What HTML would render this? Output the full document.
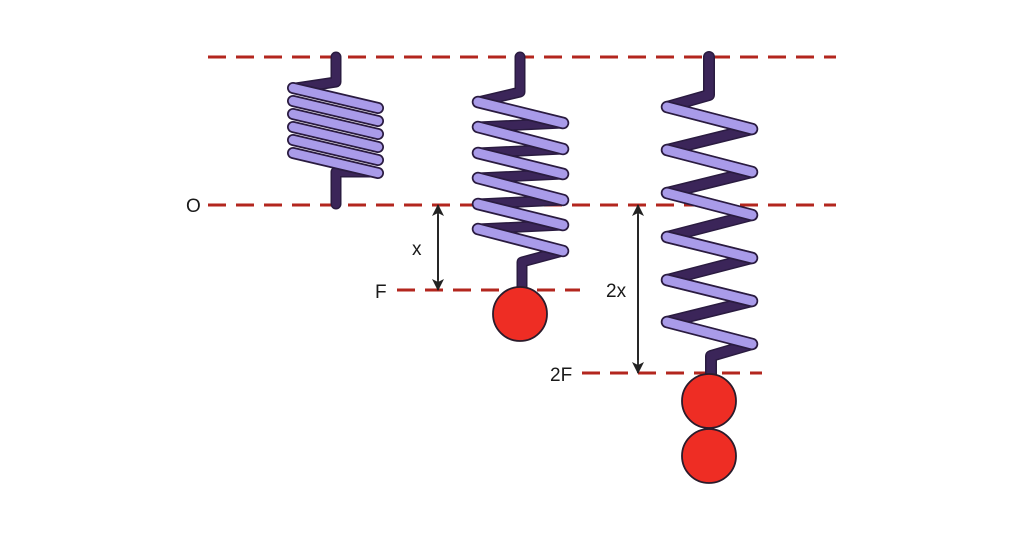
<!DOCTYPE html>
<html><head><meta charset="utf-8"><style>
html,body{margin:0;padding:0;background:#fff;}
svg{display:block}
text{font-family:"Liberation Sans",sans-serif;font-size:19px;fill:#1a1a1a}
</style></head><body>
<svg width="1024" height="538" viewBox="0 0 1024 538" xmlns="http://www.w3.org/2000/svg">
<defs>
<marker id="ah" markerWidth="12" markerHeight="12" refX="11" refY="6" orient="auto" markerUnits="userSpaceOnUse">
<path d="M0,0 L12,6 L0,12 L3,6 Z" fill="#222"/></marker>
</defs>
<g stroke="#b3261e" stroke-width="3" stroke-dasharray="18,10" fill="none">
<line x1="208" y1="57" x2="836" y2="57"/>
<line x1="208" y1="205" x2="836" y2="205"/>
<line x1="397" y1="290" x2="580" y2="290"/>
<line x1="582" y1="373" x2="762" y2="373"/>
</g>
<g stroke="#222" stroke-width="1.8">
<line x1="438" y1="215" x2="438" y2="290" marker-end="url(#ah)"/>
<line x1="438" y1="280" x2="438" y2="205" marker-end="url(#ah)"/>
<line x1="638" y1="215" x2="638" y2="373" marker-end="url(#ah)"/>
<line x1="638" y1="360" x2="638" y2="205" marker-end="url(#ah)"/>
</g>
<text x="186" y="212">O</text>
<text x="412" y="255">x</text>
<text x="375" y="298">F</text>
<text x="606" y="297">2x</text>
<text x="550" y="381">2F</text>

<g fill="none" stroke-linecap="round" stroke-linejoin="round">
<!-- spring 1 -->
<polyline stroke="#2a1b40" stroke-width="11" points="336,57 336,82 296,88"/>
<polyline stroke="#3b2559" stroke-width="8" points="336,57 336,82 296,88"/>
<polyline stroke="#2a1b40" stroke-width="11" points="374,172 336,172 336,204"/>
<polyline stroke="#3b2559" stroke-width="8" points="374,172 336,172 336,204"/>
<g stroke="#2a1b40" stroke-width="12">
<line x1="293" y1="88" x2="378" y2="108"/><line x1="293" y1="101" x2="378" y2="121"/><line x1="293" y1="114" x2="378" y2="134"/><line x1="293" y1="127" x2="378" y2="147"/><line x1="293" y1="140" x2="378" y2="160"/><line x1="293" y1="153" x2="378" y2="173"/>
</g>
<g stroke="#a99be9" stroke-width="8.5">
<line x1="293" y1="88" x2="378" y2="108"/><line x1="293" y1="101" x2="378" y2="121"/><line x1="293" y1="114" x2="378" y2="134"/><line x1="293" y1="127" x2="378" y2="147"/><line x1="293" y1="140" x2="378" y2="160"/><line x1="293" y1="153" x2="378" y2="173"/>
</g>
<!-- spring 2 -->
<polyline stroke="#2a1b40" stroke-width="11" points="520,57 520,92 478,102 563,123 478,127 563,149 478,153 563,174 478,178 563,200 478,204 563,225 478,229 563,251 522,262 522,290"/>
<polyline stroke="#3b2559" stroke-width="8" points="520,57 520,92 478,102 563,123 478,127 563,149 478,153 563,174 478,178 563,200 478,204 563,225 478,229 563,251 522,262 522,290"/>
<g stroke="#2a1b40" stroke-width="12.5">
<line x1="478" y1="102" x2="563" y2="123"/><line x1="478" y1="127" x2="563" y2="149"/><line x1="478" y1="153" x2="563" y2="174"/><line x1="478" y1="178" x2="563" y2="200"/><line x1="478" y1="204" x2="563" y2="225"/><line x1="478" y1="229" x2="563" y2="251"/>
</g>
<g stroke="#a99be9" stroke-width="9">
<line x1="478" y1="102" x2="563" y2="123"/><line x1="478" y1="127" x2="563" y2="149"/><line x1="478" y1="153" x2="563" y2="174"/><line x1="478" y1="178" x2="563" y2="200"/><line x1="478" y1="204" x2="563" y2="225"/><line x1="478" y1="229" x2="563" y2="251"/>
</g>
<!-- spring 3 -->
<polyline stroke="#2a1b40" stroke-width="12" points="709,57 709,95 667,107 752,129 667,150 752,172 667,193 752,215 667,237 752,258 667,280 752,301 667,322 752,344 711,356 711,374"/>
<polyline stroke="#3b2559" stroke-width="9" points="709,57 709,95 667,107 752,129 667,150 752,172 667,193 752,215 667,237 752,258 667,280 752,301 667,322 752,344 711,356 711,374"/>
<g stroke="#2a1b40" stroke-width="12.5">
<line x1="667" y1="107" x2="752" y2="129"/><line x1="667" y1="150" x2="752" y2="172"/><line x1="667" y1="193" x2="752" y2="215"/><line x1="667" y1="237" x2="752" y2="258"/><line x1="667" y1="280" x2="752" y2="301"/><line x1="667" y1="322" x2="752" y2="344"/>
</g>
<g stroke="#a99be9" stroke-width="9">
<line x1="667" y1="107" x2="752" y2="129"/><line x1="667" y1="150" x2="752" y2="172"/><line x1="667" y1="193" x2="752" y2="215"/><line x1="667" y1="237" x2="752" y2="258"/><line x1="667" y1="280" x2="752" y2="301"/><line x1="667" y1="322" x2="752" y2="344"/>
</g>
</g>
<g fill="#ee2d24" stroke="#2a1b2b" stroke-width="1.8">
<circle cx="520" cy="314" r="27"/>
<circle cx="709" cy="401" r="27"/>
<circle cx="709" cy="456" r="27"/>
</g>
</svg>
</body></html>
